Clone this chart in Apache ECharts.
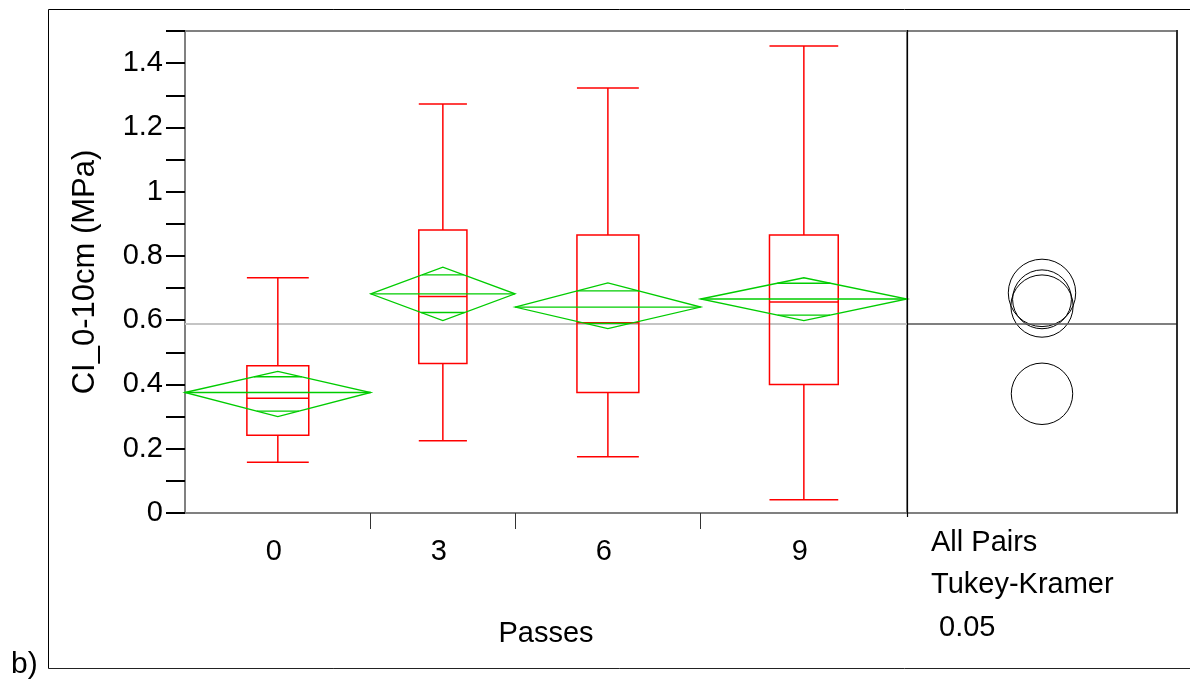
<!DOCTYPE html>
<html>
<head>
<meta charset="utf-8">
<script src="https://cdn.jsdelivr.net/npm/echarts@6/dist/echarts.min.js"></script>
<style>
html,body{margin:0;padding:0;background:#fff;}
#chart{width:1190px;height:686px;}
</style>
</head>
<body>
<div id="chart"></div>
<script>
// ---- data ----
const passes = ['0', '3', '6', '9'];
const groupN = [18, 14, 18, 20];
const whiskerLow = [0.158, 0.225, 0.175, 0.041];
const q1 = [0.242, 0.465, 0.375, 0.400];
const median = [0.357, 0.674, 0.592, 0.657];
const q3 = [0.458, 0.881, 0.865, 0.865];
const whiskerHigh = [0.732, 1.273, 1.323, 1.453];
const means = [0.375, 0.682, 0.641, 0.666];
const ciLow = [0.300, 0.599, 0.574, 0.599];
const ciHigh = [0.441, 0.765, 0.716, 0.732];
const ovLow = [0.317, 0.624, 0.590, 0.616];
const ovHigh = [0.424, 0.741, 0.691, 0.715];
const grandMean = 0.591;
const circleCenter = [0.371, 0.685, 0.644, 0.665];
const circleRadius = [0.0956, 0.1049, 0.0969, 0.0916];
const yTickLabels = ['0', '0.2', '0.4', '0.6', '0.8', '1', '1.2', '1.4'];
const rightLabels = ['All Pairs', 'Tukey-Kramer', ' 0.05'];
const xTitle = 'Passes';
const yTitle = 'CI_0-10cm (MPa)';

// ---- build ----
const FONT = "'Liberation Sans', Arial, sans-serif";
const FS = 29;
const starts = [];
let acc = 0;
groupN.forEach(n => { starts.push(acc); acc += n; });
const totalN = acc;
const boxRows = passes.map((p, i) => [starts[i], starts[i] + groupN[i], whiskerLow[i], q1[i], median[i], q3[i], whiskerHigh[i], means[i], ciLow[i], ciHigh[i], ovLow[i], ovHigh[i]]);
const centers = passes.map((p, i) => starts[i] + groupN[i] / 2);
const boundaries = starts.slice(1);
const circleRows = circleCenter.map((c, i) => [0.5, c, circleRadius[i]]);

const RED = '#ff0000', GREEN = '#00cc00';

const chart = echarts.init(document.getElementById('chart'), null, {renderer: 'canvas'});
chart.setOption({
  animation: false,
  backgroundColor: '#fff',
  grid: [
    {left: 185, right: 283, top: 31, bottom: 173, show: true, borderColor: '#808080', borderWidth: 2},
    {left: 907, right: 13, top: 31, bottom: 173, show: true, borderColor: '#808080', borderWidth: 2}
  ],
  xAxis: [
    {
      gridIndex: 0, type: 'value', min: 0, max: totalN,
      axisLine: {show: true, lineStyle: {color: '#808080', width: 2}},
      axisTick: {show: true, customValues: boundaries, length: 16, lineStyle: {color: '#333', width: 1}},
      axisLabel: {show: true, customValues: centers, margin: 24, padding: [0, 8, 0, 0],
        formatter: v => { const k = centers.findIndex(c => Math.abs(c - v) < 1e-6); return k >= 0 ? passes[k] : ''; },
        fontSize: FS, color: '#000', fontFamily: FONT},
      splitLine: {show: false},
      name: xTitle, nameLocation: 'middle', nameGap: 106,
      nameTextStyle: {fontSize: FS, color: '#000', fontFamily: FONT}
    },
    {gridIndex: 1, type: 'value', min: 0, max: 1, show: false}
  ],
  yAxis: [
    {
      gridIndex: 0, type: 'value', min: 0, max: 1.5, interval: 0.1,
      axisLine: {show: true, lineStyle: {color: '#808080', width: 2}},
      axisTick: {show: true, inside: false, length: 19, lineStyle: {color: '#000', width: 2}},
      axisLabel: {margin: 22, fontSize: FS, color: '#000', fontFamily: FONT,
        formatter: v => { const k = Math.round(v * 10); return k % 2 === 0 ? (yTickLabels[k / 2] || '') : ''; }},
      splitLine: {show: false},
      name: yTitle, nameLocation: 'middle', nameGap: 84,
      nameTextStyle: {fontSize: 31, color: '#000', fontFamily: FONT}
    },
    {gridIndex: 1, type: 'value', min: 0, max: 1.5, show: false}
  ],
  series: [
    {
      type: 'custom', xAxisIndex: 0, yAxisIndex: 0, data: boxRows, z: 3, silent: true,
      markLine: {
        silent: true, symbol: 'none', label: {show: false}, z: 1,
        lineStyle: {color: '#c4c4c4', width: 2, type: 'solid'},
        data: [{yAxis: grandMean}]
      },
      renderItem: function (params, api) {
        const xL = api.coord([api.value(0), 0])[0];
        const xR = api.coord([api.value(1), 0])[0];
        const w = xR - xL, cx = (xL + xR) / 2, hb = w / 6;
        const y = k => api.coord([0, api.value(k)])[1];
        const yWl = y(2), yQ1 = y(3), yMed = y(4), yQ3 = y(5), yWh = y(6);
        const yM = y(7), yCl = y(8), yCh = y(9), yOl = y(10), yOh = y(11);
        const red = {stroke: RED, lineWidth: 1.5, fill: null};
        const grn = {stroke: GREEN, lineWidth: 1.3, fill: null};
        const line = (x1, y1, x2, y2, st) => ({type: 'line', shape: {x1, y1, x2, y2}, style: st});
        const ovHalfHi = (1 - (yM - yOh) / (yM - yCh)) * w / 2;
        const ovHalfLo = (1 - (yOl - yM) / (yCl - yM)) * w / 2;
        return {
          type: 'group',
          children: [
            line(cx, yQ3, cx, yWh, red),
            line(cx, yQ1, cx, yWl, red),
            line(cx - hb, yWh, cx + hb, yWh, red),
            line(cx - hb, yWl, cx + hb, yWl, red),
            {type: 'rect', shape: {x: cx - hb, y: yQ3, width: 2 * hb, height: yQ1 - yQ3}, style: red},
            line(cx - hb, yMed, cx + hb, yMed, red),
            {type: 'polygon', shape: {points: [[xL, yM], [cx, yCh], [xR, yM], [cx, yCl]]}, style: grn},
            line(xL, yM, xR, yM, grn),
            line(cx - ovHalfHi, yOh, cx + ovHalfHi, yOh, grn),
            line(cx - ovHalfLo, yOl, cx + ovHalfLo, yOl, grn)
          ]
        };
      }
    },
    {
      type: 'custom', xAxisIndex: 1, yAxisIndex: 1, data: circleRows, z: 3, silent: true,
      markLine: {
        silent: true, symbol: 'none', label: {show: false},
        lineStyle: {color: '#555', width: 1.5, type: 'solid'},
        data: [{yAxis: grandMean}]
      },
      renderItem: function (params, api) {
        const c = api.coord([api.value(0), api.value(1)]);
        const r = api.size([0, api.value(2)])[1];
        return {type: 'circle', shape: {cx: c[0], cy: c[1], r: r}, style: {stroke: '#000', lineWidth: 1, fill: null}};
      }
    }
  ],
  graphic: [
    {type: 'line', shape: {x1: 48.5, y1: 9.5, x2: 1190, y2: 9.5}, style: {stroke: '#000', lineWidth: 1}},
    {type: 'line', shape: {x1: 48.5, y1: 9.5, x2: 48.5, y2: 668.5}, style: {stroke: '#000', lineWidth: 1}},
    {type: 'line', shape: {x1: 48.5, y1: 668.5, x2: 1190, y2: 668.5}, style: {stroke: '#222', lineWidth: 1}},
    {type: 'line', shape: {x1: 907.5, y1: 30, x2: 907.5, y2: 517}, style: {stroke: '#000', lineWidth: 1.2}, z: 10},
    {type: 'line', shape: {x1: 1177, y1: 30, x2: 1177, y2: 513}, style: {stroke: '#000', lineWidth: 1.3}, z: 10},
    {type: 'text', left: 931, top: 528, style: {text: rightLabels[0], font: FS + 'px ' + FONT, fill: '#000'}},
    {type: 'text', left: 931, top: 570, style: {text: rightLabels[1], font: FS + 'px ' + FONT, fill: '#000'}},
    {type: 'text', left: 931, top: 613, style: {text: rightLabels[2], font: FS + 'px ' + FONT, fill: '#000'}},
    {type: 'text', left: 11, top: 650, style: {text: 'b)', font: '30px ' + FONT, fill: '#000'}}
  ]
});
</script>
</body>
</html>
